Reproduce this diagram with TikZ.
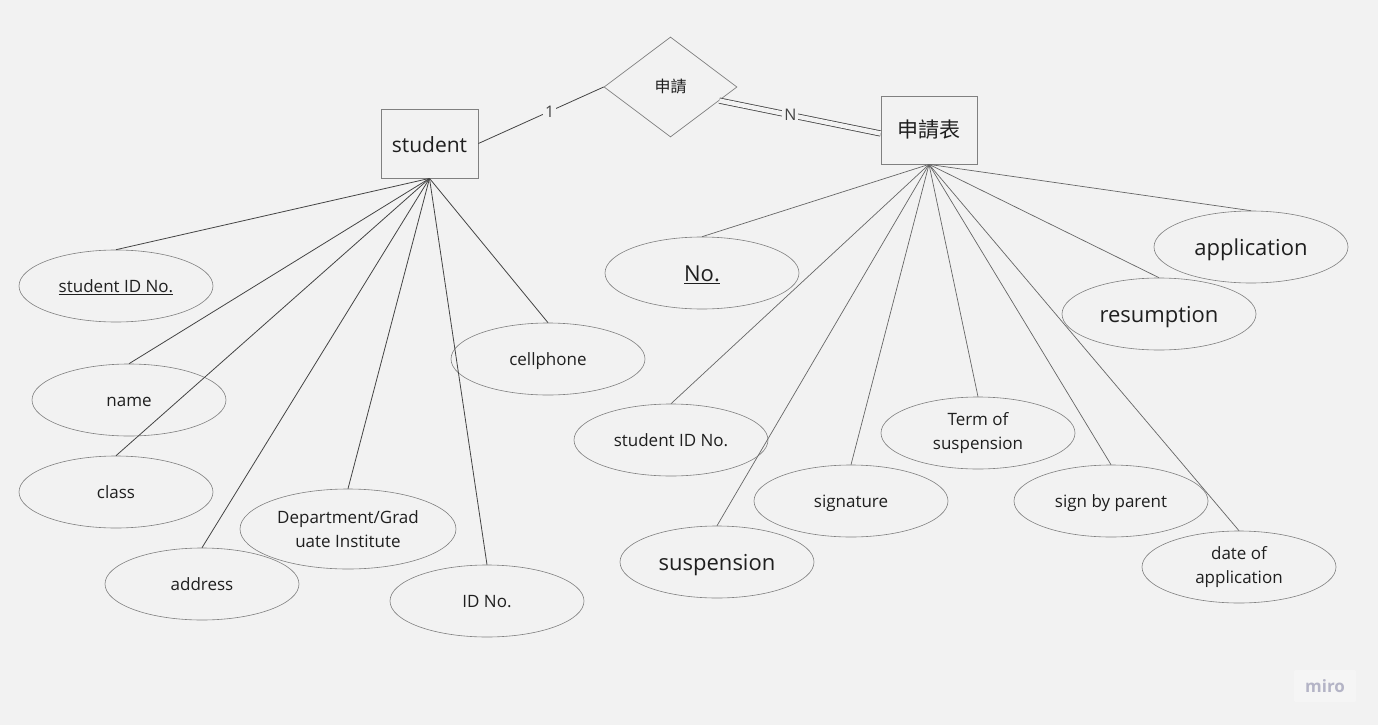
\documentclass[tikz,border=0pt]{standalone}
\usepackage{fontspec}
\setmainfont{Open Sans}
\newfontfamily\cjk{Noto Sans CJK TC}
\usetikzlibrary{shapes.geometric,calc}
\definecolor{bg}{HTML}{F2F2F2}
\definecolor{ln}{HTML}{444444}
\definecolor{ln2}{HTML}{666666}
\definecolor{shp}{HTML}{808080}
\definecolor{txt}{HTML}{1F1F1F}
\definecolor{miroc}{HTML}{B4B4C6}
\begin{document}
\begin{tikzpicture}[x=1pt,y=-1pt,
  attrbase/.style={ellipse, draw=shp, line width=0.6pt, minimum width=194pt, minimum height=72pt, inner sep=0pt, text=txt, font=\fontsize{17}{24}\selectfont, align=center},
  attr/.style={attrbase, text height=17.75pt, text depth=4.25pt},
  bigattr/.style={attrbase, font=\fontsize{22}{26}\selectfont, text height=22.5pt, text depth=5.5pt},
  entity/.style={rectangle, draw=shp, line width=0.8pt, text=txt, inner sep=0pt},
  conn/.style={draw=ln, line width=0.8pt},
  conn2/.style={draw=ln2, line width=0.7pt},
  card/.style={fill=bg, inner sep=2pt, text=ln, font=\fontsize{16}{18}\selectfont}]
\useasboundingbox (0,0) rectangle (1378,725);
\fill[bg] (0,0) rectangle (1378,725);

% entities and relationship
\node[entity, minimum width=97pt, minimum height=69pt, font=\fontsize{21}{24}\selectfont, text height=23.5pt, text depth=5.25pt] (student) at (429.5,143.5) {student};
\node[entity, minimum width=96pt, minimum height=68pt, font=\fontsize{21}{24}\selectfont\cjk] (form) at (929,130) {申請表};
\node[diamond, draw=shp, line width=0.7pt, minimum width=133pt, minimum height=100pt, inner sep=0pt, text=txt, font=\fontsize{16}{18}\selectfont\cjk] (rel) at (670.5,87) {申請};

\draw[conn] (student.east) -- (rel.west) node[card, pos=0.57] {1};
\coordinate (dstart) at ($(rel.east)!0.27!(rel.south)$);
\coordinate (dend) at ($(form.west)+(0,3.5)$);
\draw[ln, line width=0.8pt, double=bg, double distance=4.5pt] (dstart) -- (dend);
\node[card] (nlab) at ($(dstart)!0.44!(dend)$) {N};

% student attributes
\node[attr] (sid) at (116,286) {\underline{student ID No.}};
\node[attr] (name) at (129,400) {name};
\node[attr] (class) at (116,492) {class};
\node[attr] (addr) at (202,584) {address};
\node[attrbase, minimum width=216pt, minimum height=80pt] (dept) at (348,529) {Department/Grad\\uate Institute};
\node[attr] (idno) at (487,601) {ID No.};
\node[attr] (cell) at (548,359) {cellphone};

\foreach \a in {sid,name,class,addr,dept,idno,cell}
  \draw[conn] (student.south) -- (\a.north);

% form attributes
\node[bigattr] (no) at (702,273) {\underline{No.}};
\node[bigattr] (appl) at (1251,247) {application};
\node[bigattr] (resu) at (1159,314) {resumption};
\node[attr] (fsid) at (671,440) {student ID No.};
\node[bigattr] (susp) at (717,562) {suspension};
\node[attr] (sign) at (851,501) {signature};
\node[attrbase] (term) at (978,433) {Term of\\suspension};
\node[attr] (par) at (1111,501) {sign by parent};
\node[attrbase] (date) at (1239,567) {date of\\application};

\foreach \a in {no,appl,resu,fsid,susp,sign,term,par,date}
  \draw[conn2] (form.south) -- (\a.north);

% watermark
\node[fill=white, fill opacity=0.3, text opacity=1, rounded corners=2pt, minimum width=62pt, minimum height=32pt, text=miroc, font=\fontsize{17}{20}\selectfont\bfseries] (miro) at (1325,686) {miro};
\end{tikzpicture}
\end{document}
